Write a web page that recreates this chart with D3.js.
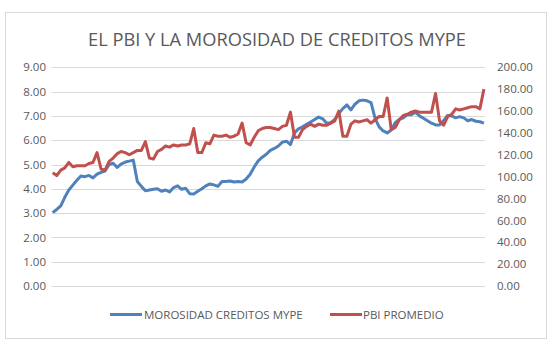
<!DOCTYPE html>
<html><head><meta charset="utf-8">
<script src="https://cdn.jsdelivr.net/npm/d3@7"></script>
<style>html,body{margin:0;padding:0;background:#fff;}svg{display:block;}</style>
</head><body>
<svg id="c" width="552" height="344"></svg>
<script>
const title = "EL PBI Y LA MOROSIDAD DE CREDITOS MYPE";
const seriesNames = ["MOROSIDAD CREDITOS MYPE", "PBI PROMEDIO"];
const leftTicks = [0,1,2,3,4,5,6,7,8,9];
const rightTicks = [0,20,40,60,80,100,120,140,160,180,200];
const morosidad = [
3.02,3.15,3.30,3.65,3.95,4.15,4.35,4.53,4.50,4.55,4.45,4.60,
4.68,4.73,5.00,5.05,4.88,5.02,5.10,5.14,5.18,4.30,4.10,3.92,
3.95,3.98,4.00,3.90,3.95,3.87,4.05,4.12,3.98,4.02,3.80,3.79,
3.90,4.00,4.12,4.20,4.16,4.10,4.30,4.30,4.32,4.28,4.30,4.28,
4.40,4.60,4.90,5.15,5.30,5.42,5.58,5.66,5.76,5.92,5.96,5.82,
6.30,6.47,6.55,6.65,6.75,6.85,6.95,6.88,6.70,6.72,6.85,7.10,
7.30,7.45,7.25,7.48,7.62,7.65,7.62,7.55,6.90,6.55,6.38,6.30,
6.42,6.72,6.86,6.92,7.05,7.05,7.15,7.00,6.90,6.80,6.70,6.63,
6.63,6.80,7.02,7.00,6.92,6.97,6.92,6.80,6.85,6.78,6.76,6.70];
const pbi = [
103.6,101,106,108,113,109,110,110,110,112,113,122,
107,106,114,117,121,123,122,120,122,124,124,132,
117,116,123,125,128,127,129,128,129,129,130,144,
122,122,131,130,138,137,137,138,136,137,139,149,
131,129,136,142,144,145,145,144,143,146,147,159,
136,136,143,146,148,146,148,147,147,149,151,160,
137,137,148,151,150,151,152,149,152,155,155,172,
143,145,152,156,157,159,160,159,159,159,159,176,
151,147,155,157,162,161,162,163,164,164,162,180];
const periods = d3.range(morosidad.length);

const svg = d3.select("#c");
const font = "'Open Sans', 'Noto Sans', sans-serif";
const textCol = "#595959";
const plot = {left:52.7, right:483.9, top:67.3, bottom:286};

svg.append("rect").attr("x",5.5).attr("y",12.5).attr("width",541).attr("height",326)
  .attr("fill","#fff").attr("stroke","#d9d9d9");

svg.append("text").attr("x",277).attr("y",46).attr("text-anchor","middle")
  .attr("font-family",font).attr("font-size",17.5).attr("fill",textCol)
  .attr("textLength",378).attr("lengthAdjust","spacingAndGlyphs").text(title);

const x = d3.scalePoint().domain(periods).range([plot.left, plot.right]);
const yL = d3.scaleLinear().domain([0,9]).range([plot.bottom, plot.top]);
const yR = d3.scaleLinear().domain([0,200]).range([plot.bottom, plot.top]);

const grid = svg.append("g");
grid.selectAll("line").data(leftTicks).join("line")
  .attr("x1",51.5).attr("x2",485).attr("y1",d=>Math.round(yL(d))+0.5).attr("y2",d=>Math.round(yL(d))+0.5)
  .attr("stroke","#d9d9d9").attr("stroke-width",1);

const axL = d3.axisLeft(yL).tickValues(leftTicks).tickFormat(d3.format(".2f")).tickSize(0).tickPadding(3);
const gL = svg.append("g").attr("transform","translate(49,0)").call(axL);
gL.select(".domain").remove();
gL.selectAll("text").attr("font-family",font).attr("font-size",11.5).attr("fill",textCol);

const axR = d3.axisRight(yR).tickValues(rightTicks).tickFormat(d3.format(".2f")).tickSize(0).tickPadding(0);
const gR = svg.append("g").attr("transform","translate(497,0)").call(axR);
gR.select(".domain").remove();
gR.selectAll("text").attr("font-family",font).attr("font-size",11.5).attr("fill",textCol);

const colors = ["#4F81BD","#C0504D"];
svg.append("path").datum(morosidad)
  .attr("d", d3.line().x((d,i)=>x(i)).y(d=>yL(d)))
  .attr("fill","none").attr("stroke",colors[0]).attr("stroke-width",3).attr("stroke-linejoin","round");
svg.append("path").datum(pbi)
  .attr("d", d3.line().x((d,i)=>x(i)).y(d=>yR(d)))
  .attr("fill","none").attr("stroke",colors[1]).attr("stroke-width",3).attr("stroke-linejoin","round");

const legend = [{x:110, tx:144}, {x:330, tx:363}];
seriesNames.forEach((n,i)=>{
  svg.append("line").attr("x1",legend[i].x).attr("x2",legend[i].x+32).attr("y1",314.5).attr("y2",314.5)
    .attr("stroke",colors[i]).attr("stroke-width",3);
  svg.append("text").attr("x",legend[i].tx).attr("y",318.5).attr("font-family",font)
    .attr("font-size",11.5).attr("fill",textCol).text(n);
});
</script>
</body></html>
